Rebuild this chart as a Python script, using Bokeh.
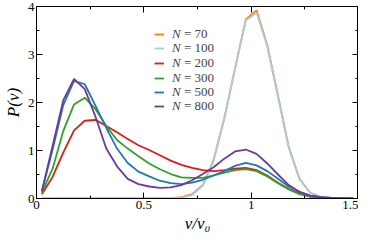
from bokeh.plotting import figure
from bokeh.models import (LinearAxis, Legend, LegendItem, FixedTicker,
                          Range1d, ColumnDataSource, CustomLabelingPolicy)
from bokeh.embed import file_html
from bokeh.resources import INLINE

# bin centres of v/v0
v = [0.025, 0.075, 0.125, 0.175, 0.225, 0.275, 0.325, 0.375, 0.425, 0.475,
     0.525, 0.575, 0.625, 0.675, 0.725, 0.775, 0.825, 0.875, 0.925, 0.975,
     1.025, 1.075, 1.125, 1.175, 1.225, 1.275, 1.325, 1.375, 1.425, 1.475]

p_n70 = [0, 0, 0, 0, 0, 0, 0, 0, 0, 0,
         0, 0, 0.005, 0.03, 0.09, 0.28, 0.80, 1.67, 2.71, 3.73,
         3.92, 3.19, 2.14, 1.07, 0.41, 0.12, 0.03, 0.01, 0, 0]
p_n100 = [0, 0, 0, 0, 0, 0, 0, 0, 0, 0,
          0, 0, 0.005, 0.02, 0.07, 0.27, 0.82, 1.68, 2.72, 3.71,
          3.87, 3.17, 2.12, 1.06, 0.40, 0.12, 0.03, 0.01, 0, 0]
p_n200 = [0.09, 0.45, 0.96, 1.42, 1.62, 1.64, 1.51, 1.38, 1.24, 1.11,
          1.01, 0.90, 0.79, 0.70, 0.64, 0.59, 0.57, 0.59, 0.62, 0.64,
          0.59, 0.48, 0.33, 0.20, 0.11, 0.04, 0.02, 0.01, 0, 0]
p_n300 = [0.12, 0.62, 1.41, 1.96, 2.10, 1.86, 1.51, 1.22, 1.04, 0.88,
          0.73, 0.61, 0.51, 0.44, 0.43, 0.43, 0.48, 0.54, 0.59, 0.61,
          0.57, 0.46, 0.32, 0.19, 0.09, 0.04, 0.02, 0.01, 0, 0]
p_n500 = [0.15, 1.02, 1.95, 2.45, 2.38, 1.93, 1.47, 1.04, 0.74, 0.56,
          0.46, 0.37, 0.32, 0.30, 0.33, 0.39, 0.48, 0.57, 0.68, 0.74,
          0.69, 0.57, 0.41, 0.25, 0.14, 0.06, 0.03, 0.01, 0, 0]
p_n800 = [0.15, 1.10, 2.05, 2.49, 2.28, 1.70, 1.04, 0.67, 0.41, 0.30,
          0.25, 0.22, 0.23, 0.28, 0.38, 0.51, 0.65, 0.83, 0.98, 1.02,
          0.93, 0.73, 0.50, 0.28, 0.14, 0.06, 0.03, 0.01, 0, 0]

series = [p_n70, p_n100, p_n200, p_n300, p_n500, p_n800]
n_values = ["70", "100", "200", "300", "500", "800"]
colors = ["#ff7f00", "#a6cee3", "#e31a1c", "#33a02c", "#1f78b4", "#6a3d9a"]

x_ticks = [0, 0.5, 1, 1.5]
x_minor = [0.25, 0.75, 1.25]
x_tick_labels = {0: "0", 0.5: "0.5", 1: "1", 1.5: "1.5"}
y_ticks = [0, 1, 2, 3, 4]
y_minor = [0.5, 1.5, 2.5, 3.5]
y_tick_labels = {0: "0", 1: "1", 2: "2", 3: "3", 4: "4"}

FONT = "Liberation Serif"

p = figure(width=358, height=235, output_backend="svg", toolbar_location=None,
           x_range=Range1d(0, 1.5), y_range=Range1d(0, 4),
           min_border_left=0, min_border_right=0, min_border_top=6,
           min_border_bottom=0, x_axis_location=None, y_axis_location=None)
p.grid.visible = False
p.outline_line_color = "black"
p.outline_line_width = 1
p.background_fill_color = "white"
p.border_fill_color = "white"

hide_all = CustomLabelingPolicy(code="for (const i of indices) indices.unset(i); return indices")


def make_axis(ticks, minor, labels_map, show_labels, title=None):
    ax = LinearAxis(ticker=FixedTicker(ticks=ticks, minor_ticks=minor))
    ax.major_tick_in = 6
    ax.major_tick_out = 0
    ax.minor_tick_in = 3
    ax.minor_tick_out = 0
    ax.axis_line_color = "black"
    ax.major_tick_line_color = "black"
    ax.minor_tick_line_color = "black"
    ax.major_label_text_font = FONT
    ax.major_label_text_font_size = "13px"
    ax.major_label_text_color = "black"
    ax.major_label_standoff = 2
    if show_labels:
        ax.major_label_overrides = labels_map
    else:
        ax.major_label_overrides = {k: "" for k in labels_map}
        ax.major_label_policy = hide_all
        ax.major_label_standoff = 0
    if title is not None:
        ax.axis_label = title
        ax.axis_label_text_font = FONT
        ax.axis_label_text_font_style = "italic"
        ax.axis_label_text_font_size = "17px"
        ax.axis_label_text_color = "black"
        ax.axis_label_standoff = 2
    return ax


p.add_layout(make_axis(x_ticks, x_minor, x_tick_labels, True, "v/v\u2080"), "below")
p.add_layout(make_axis(x_ticks, x_minor, x_tick_labels, False), "above")
p.add_layout(make_axis(y_ticks, y_minor, y_tick_labels, True, "P(v)"), "left")
p.add_layout(make_axis(y_ticks, y_minor, y_tick_labels, False), "right")

# legend: one row per series, italic "N" followed by upright "= value"
LEG_X = 118          # screen px
LEG_TOP = 156        # screen px from frame bottom to bottom of first row
ROW = 14.5           # row pitch in px
N_SHIFT = 30         # distance from swatch start to "=" text
LEG_FONT = "13px"

for i, (ys, nv, col) in enumerate(zip(series, n_values, colors)):
    src = ColumnDataSource(dict(v=v, P=ys))
    r = p.line("v", "P", source=src, line_color=col, line_width=1.8)
    y_loc = int(round(LEG_TOP - i * ROW))
    leg_a = Legend(items=[LegendItem(label="N", renderers=[r])],
                   location=(LEG_X, y_loc), glyph_width=10, glyph_height=12,
                   label_height=12, spacing=0, padding=0, margin=0,
                   label_standoff=8, label_text_font=FONT,
                   label_text_font_style="italic", label_text_font_size=LEG_FONT,
                   border_line_alpha=0, background_fill_alpha=0)
    leg_b = Legend(items=[LegendItem(label="= " + nv, renderers=[r])],
                   location=(LEG_X + N_SHIFT, y_loc), glyph_width=0, glyph_height=12,
                   label_height=12, spacing=0, padding=0, margin=0,
                   label_standoff=0, label_text_font=FONT,
                   label_text_font_size=LEG_FONT,
                   border_line_alpha=0, background_fill_alpha=0)
    p.add_layout(leg_a, "center")
    p.add_layout(leg_b, "center")

open("out.html", "w").write(file_html(p, INLINE))
